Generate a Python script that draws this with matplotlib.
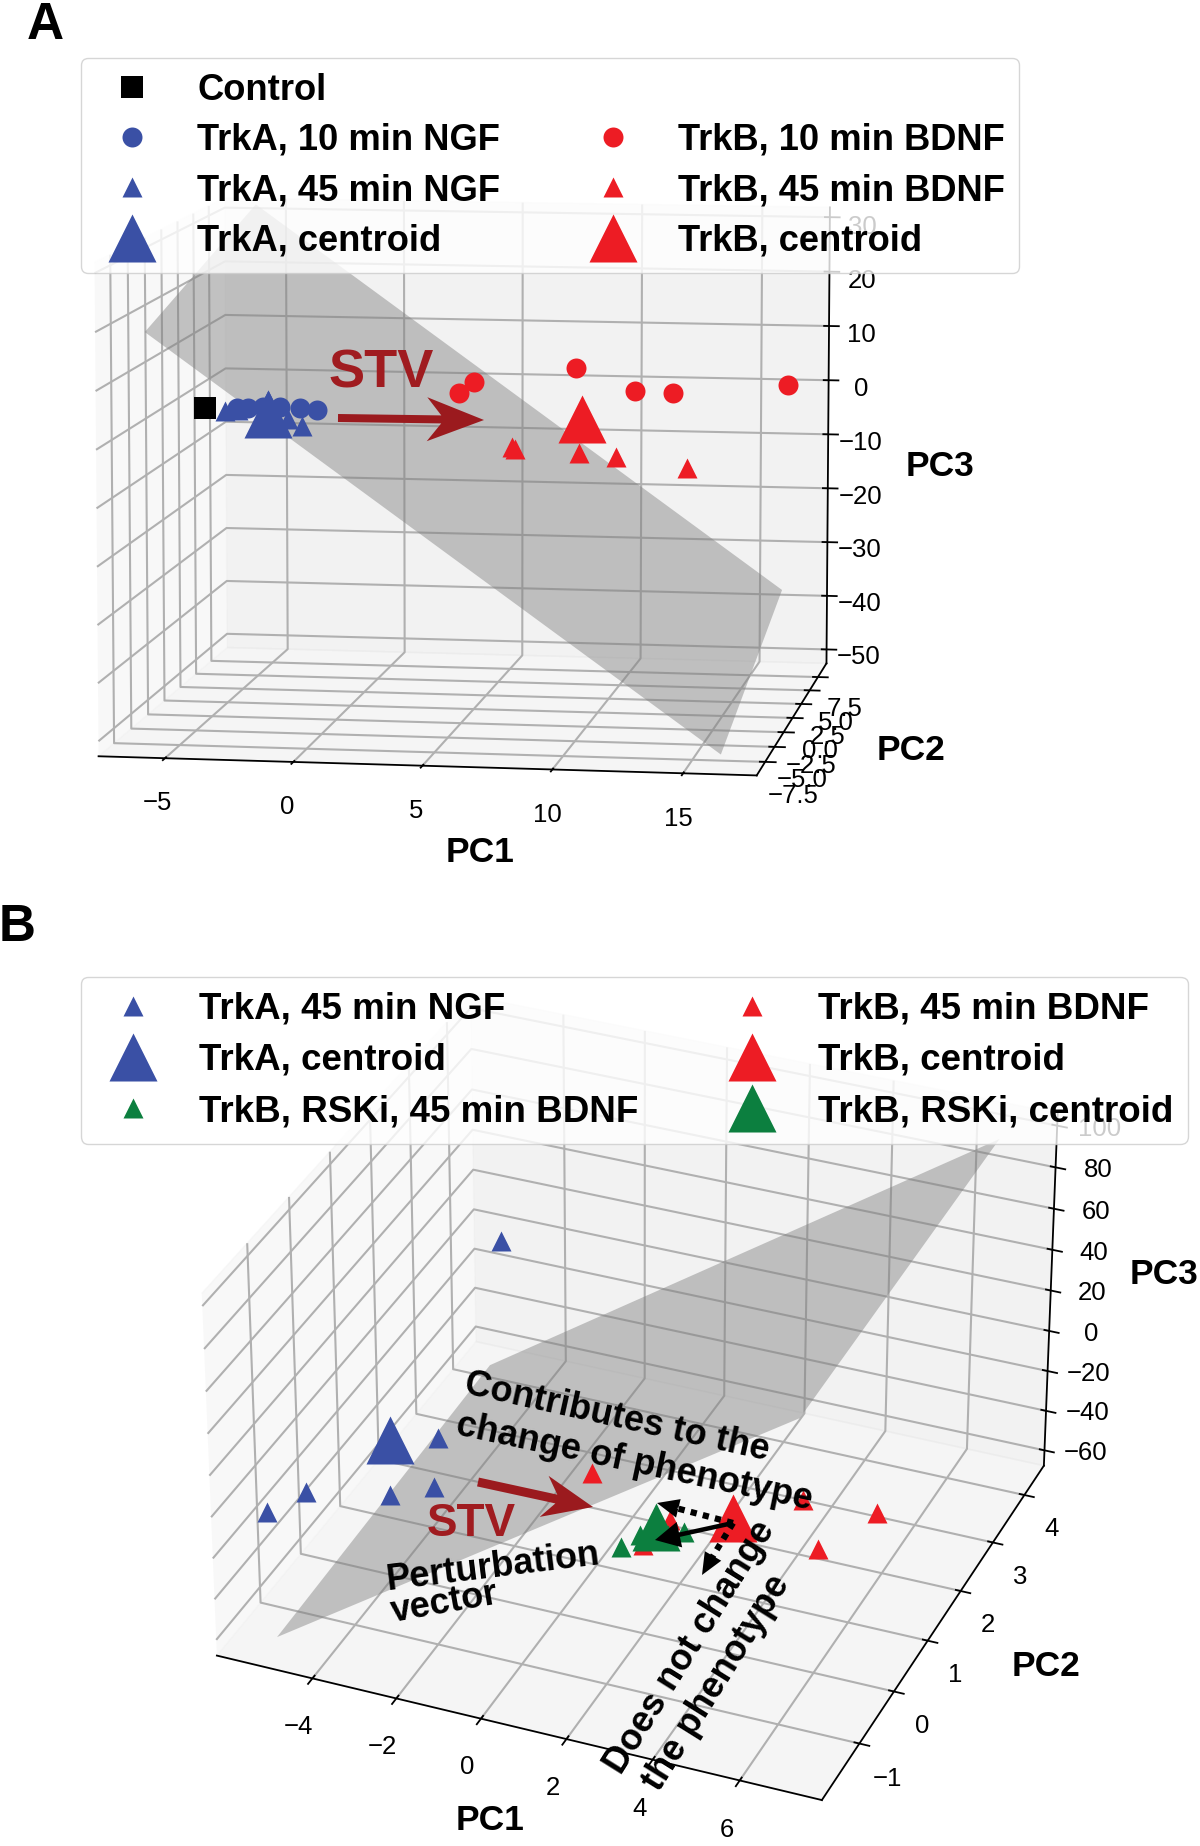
import numpy as np
import matplotlib
matplotlib.use('Agg')
import matplotlib.pyplot as plt
from mpl_toolkits.mplot3d.art3d import Poly3DCollection

plt.rcParams['font.family'] = ['Liberation Sans', 'DejaVu Sans']
plt.rcParams['grid.linewidth'] = 1.5
plt.rcParams['axes.linewidth'] = 1.3
plt.rcParams['xtick.major.width'] = 1.3
plt.rcParams['ytick.major.width'] = 1.3

BLUE = '#3a50a5'
RED = '#ed1c24'
GREEN = '#0c7f3f'
DARKRED = '#a01c20'

# panel A, (PC1, PC2, PC3)
control_x = [-5.87]
control_y = [0]
control_z = [0.1]
a_trka10_x = [-4.32, -4.37, -3.51, -3.31, -1.77, -1.56]
a_trka10_y = [-1, 1, 0, 2, -1, 1]
a_trka10_z = [1.0, -0.5, 0.5, -0.9, 1.2, -0.6]
a_trka45_x = [-4.55, -4.78, -3.80, -2.26, -1.93]
a_trka45_y = [-2, 1, 2, -1, 0]
a_trka45_z = [1.2, -0.9, 0.3, -0.8, -2.7]
a_trka_cent = ([-3.31], [0], [-0.7])
a_trkb10_x = [4.20, 4.60, 8.73, 11.46, 13.13, 17.39]
a_trkb10_y = [1, 2, 2, 0, -1, 1]
a_trkb10_z = [3.0, 4.3, 7.1, 4.7, 5.2, 5.6]
a_trkb45_x = [6.54, 6.85, 9.04, 10.88, 13.54]
a_trkb45_y = [0, -1, 1, -1, 0]
a_trkb45_z = [-5.7, -5.2, -7.3, -6.2, -8.7]
a_trkb_cent = ([9.34], [0], [-0.4])
a_plane_x = [-3.76, 17.35, 14.95, -8.30]
a_plane_y = [0, 0, 0, 0]
a_plane_z = [36.5, -29.9, -59.5, 13.5]

# panel B
b_trka45_x = [-4.10, -4.80, -7.11, -7.15, -5.05, -4.44]
b_trka45_y = [3, 2, 0, 1, 1, 1.5]
b_trka45_z = [28.8, -50.1, -50.6, -64.7, -56.4, -61.5]
b_trka_cent = ([-5.51], [1.5], [-42.7])
b_trkb45_x = [-1.00, 4.09, 5.85, 4.86, 0.68, 0.90]
b_trkb45_y = [2, 2, 2, 1.5, 1.5, 2]
b_trkb45_z = [-50.3, -40.3, -38.5, -49.0, -66.8, -65.2]
b_trkb_cent = ([2.84], [1.5], [-43.1])
b_rski45_x = [0.14, 1.24, 1.28, 0.17]
b_rski45_y = [1.5, 2, 1.5, 2]
b_rski45_z = [-70.3, -69.7, -58.9, -76.2]
b_rski_cent = ([0.99], [1.5], [-56.3])
b_plane_x = [-8.53, -3.01, 8.78, 4.39]
b_plane_y = [1.5, 1.5, 1.5, 1.5]
b_plane_z = [-158.4, 5.9, 163.3, 13.2]

SMALL = 207
BIG = 1195


def make_axes(fig, left, bottom, width, view, lims, aspect, focal):
    ax = fig.add_axes([left / 1200, bottom / 1846, width / 1200, width / 1846],
                      projection='3d', computed_zorder=False)
    ax.set_facecolor('none')
    ax.view_init(*view)
    ax.set_xlim3d(lims[0], lims[1])
    ax.set_ylim3d(lims[2], lims[3])
    ax.set_zlim3d(lims[4], lims[5])
    ax.set_box_aspect(aspect)
    ax.set_proj_type('persp', focal_length=focal)
    ax.tick_params(labelsize=18.5)
    return ax


def add_plane(ax, xs, ys, zs):
    poly = Poly3DCollection([list(zip(xs, ys, zs))], facecolor='#7f7f7f', edgecolor='none',
                            alpha=0.45, zorder=1)
    ax.add_collection3d(poly)


def dots(ax, x, y, z, marker, size, color, label, zorder=3):
    return ax.scatter(x, y, z, marker=marker, s=size, c=color, linewidths=0,
                      depthshade=False, label=label, zorder=zorder)


fig = plt.figure(figsize=(12, 18.46), dpi=100)

# panel A
axa = make_axes(fig, -32.7, 864, 993, (8.0, -81.02), (-7.6, 17.8, -9.7, 10.14, -52.6, 31.8),
                (4, 4.01, 3.0), 1.21)
axa.set_xticks([-5, 0, 5, 10, 15])
axa.set_yticks([-7.5, -5, -2.5, 0, 2.5, 5, 7.5])
axa.set_zticks([-50, -40, -30, -20, -10, 0, 10, 20, 30])
axa.set_yticklabels(['\u22127.5', '\u22125.0', '\u22122.5', '0.0', '2.5', '5.0', '7.5'])
axa.tick_params(axis='x', pad=12)
axa.tick_params(axis='y', pad=8)
axa.tick_params(axis='z', pad=10)
add_plane(axa, a_plane_x, a_plane_y, a_plane_z)
h_ctrl = dots(axa, control_x, control_y, control_z, 's', 229, 'k', 'Control')
h_a10 = dots(axa, a_trka10_x, a_trka10_y, a_trka10_z, 'o', SMALL, BLUE, 'TrkA, 10 min NGF')
h_a45 = dots(axa, a_trka45_x, a_trka45_y, a_trka45_z, '^', SMALL, BLUE, 'TrkA, 45 min NGF')
h_ac = dots(axa, *a_trka_cent, '^', BIG, BLUE, 'TrkA, centroid')
h_b10 = dots(axa, a_trkb10_x, a_trkb10_y, a_trkb10_z, 'o', SMALL, RED, 'TrkB, 10 min BDNF')
h_b45 = dots(axa, a_trkb45_x, a_trkb45_y, a_trkb45_z, '^', SMALL, RED, 'TrkB, 45 min BDNF')
h_bc = dots(axa, *a_trkb_cent, '^', BIG, RED, 'TrkB, centroid')

# panel B
axb = make_axes(fig, 139.6, -37, 973.7, (32.06, -67.6), (-6.3, 7.87, -2.06, 4.63, -67.8, 105.85),
                (4, 3.99, 2.615), 1.237)
axb.set_xticks([-4, -2, 0, 2, 4, 6])
axb.set_yticks([-1, 0, 1, 2, 3, 4])
axb.set_zticks([-60, -40, -20, 0, 20, 40, 60, 80, 100])
axb.tick_params(axis='x', pad=11)
axb.tick_params(axis='y', pad=9)
axb.tick_params(axis='z', pad=11)
add_plane(axb, b_plane_x, b_plane_y, b_plane_z)
k_a45 = dots(axb, b_trka45_x, b_trka45_y, b_trka45_z, '^', SMALL, BLUE, 'TrkA, 45 min NGF')
k_ac = dots(axb, *b_trka_cent, '^', BIG, BLUE, 'TrkA, centroid')
k_b45 = dots(axb, b_trkb45_x, b_trkb45_y, b_trkb45_z, '^', SMALL, RED, 'TrkB, 45 min BDNF', zorder=3)
k_g45 = dots(axb, b_rski45_x, b_rski45_y, b_rski45_z, '^', SMALL, GREEN, 'TrkB, RSKi, 45 min BDNF', zorder=4)
k_bc = dots(axb, *b_trkb_cent, '^', BIG, RED, 'TrkB, centroid', zorder=5)
k_gc = dots(axb, *b_rski_cent, '^', BIG, GREEN, 'TrkB, RSKi, centroid', zorder=6)

# overlay in pixel coordinates for legends, axis names and annotations
over = fig.add_axes([0, 0, 1, 1], zorder=10)
over.set_xlim(0, 1200)
over.set_ylim(1846, 0)
over.axis('off')

blank = plt.Line2D([], [], linestyle='none', label=' ')
leg_a = over.legend(handles=[h_ctrl, h_a10, h_a45, h_ac, blank, h_b10, h_b45, h_bc], ncols=2,
                    loc='upper left', bbox_to_anchor=(81, 58), bbox_transform=over.transData,
                    borderaxespad=0, labelspacing=0.42, columnspacing=2.08,
                    scatterpoints=1, scatteryoffsets=[0.5], prop={'weight': 'bold', 'size': 26.2})
over.add_artist(leg_a)
over.legend(handles=[k_a45, k_ac, k_g45, k_b45, k_bc, k_gc], ncols=2,
            loc='upper left', bbox_to_anchor=(81, 977), bbox_transform=over.transData,
            borderaxespad=0, labelspacing=0.44, columnspacing=2.08,
            scatterpoints=1, scatteryoffsets=[0.5], prop={'weight': 'bold', 'size': 26.5})

over.text(45, 39, 'A', fontsize=37, fontweight='bold', ha='center', va='baseline')
over.text(17, 941, 'B', fontsize=37, fontweight='bold', ha='center', va='baseline')

axis_names = [(480, 852, 'PC1'), (911, 751, 'PC2'), (940, 466, 'PC3'),
              (490, 1821, 'PC1'), (1046, 1666, 'PC2'), (1164, 1274, 'PC3')]
for x, y, txt in axis_names:
    over.text(x, y, txt, fontsize=25.5, fontweight='bold', ha='center', va='center')

# panel A arrow
over.text(381, 374, 'STV', fontsize=39, fontweight='bold', color=DARKRED, ha='center', va='center')
over.arrow(338, 418, 146, 2, width=8, head_width=44, head_length=57, overhang=0.25,
           length_includes_head=True, fc='#9b1a1e', ec='none')

# panel B arrows and notes
over.text(471, 1524, 'STV', fontsize=33, fontweight='bold', color=DARKRED, ha='center', va='center')
over.arrow(478, 1482, 115, 25, width=9, head_width=42, head_length=50, overhang=0.25,
           length_includes_head=True, fc='#9b1a1e', ec='none')
over.plot([733, 672], [1523, 1507], color='k', lw=4.5, linestyle=(0, (1, 1)), dash_capstyle='butt')
over.arrow(677, 1508, -20, -5, width=0.5, head_width=19, head_length=22,
           length_includes_head=True, fc='k', ec='none')
over.plot([733, 710], [1523, 1561], color='k', lw=4.5, linestyle=(0, (1, 1)), dash_capstyle='butt')
over.arrow(713, 1556, -11, 19, width=0.5, head_width=19, head_length=22,
           length_includes_head=True, fc='k', ec='none')
over.arrow(733, 1523, -78, 17, width=4.5, head_width=26, head_length=25,
           length_includes_head=True, fc='k', ec='none')
notes = [(617, 1417, 'Contributes to the', -12.5), (634, 1463, 'change of phenotype', -12),
         (493, 1567, 'Perturbation', 7), (445, 1603, 'vector', 10),
         (690, 1647, 'Does not change', 58), (717, 1683, 'the phenotype', 58)]
for x, y, txt, rot in notes:
    over.text(x, y, txt, fontsize=26, fontweight='bold', rotation=rot, rotation_mode='anchor',
              ha='center', va='center')

fig.savefig('out.png', dpi=100)
